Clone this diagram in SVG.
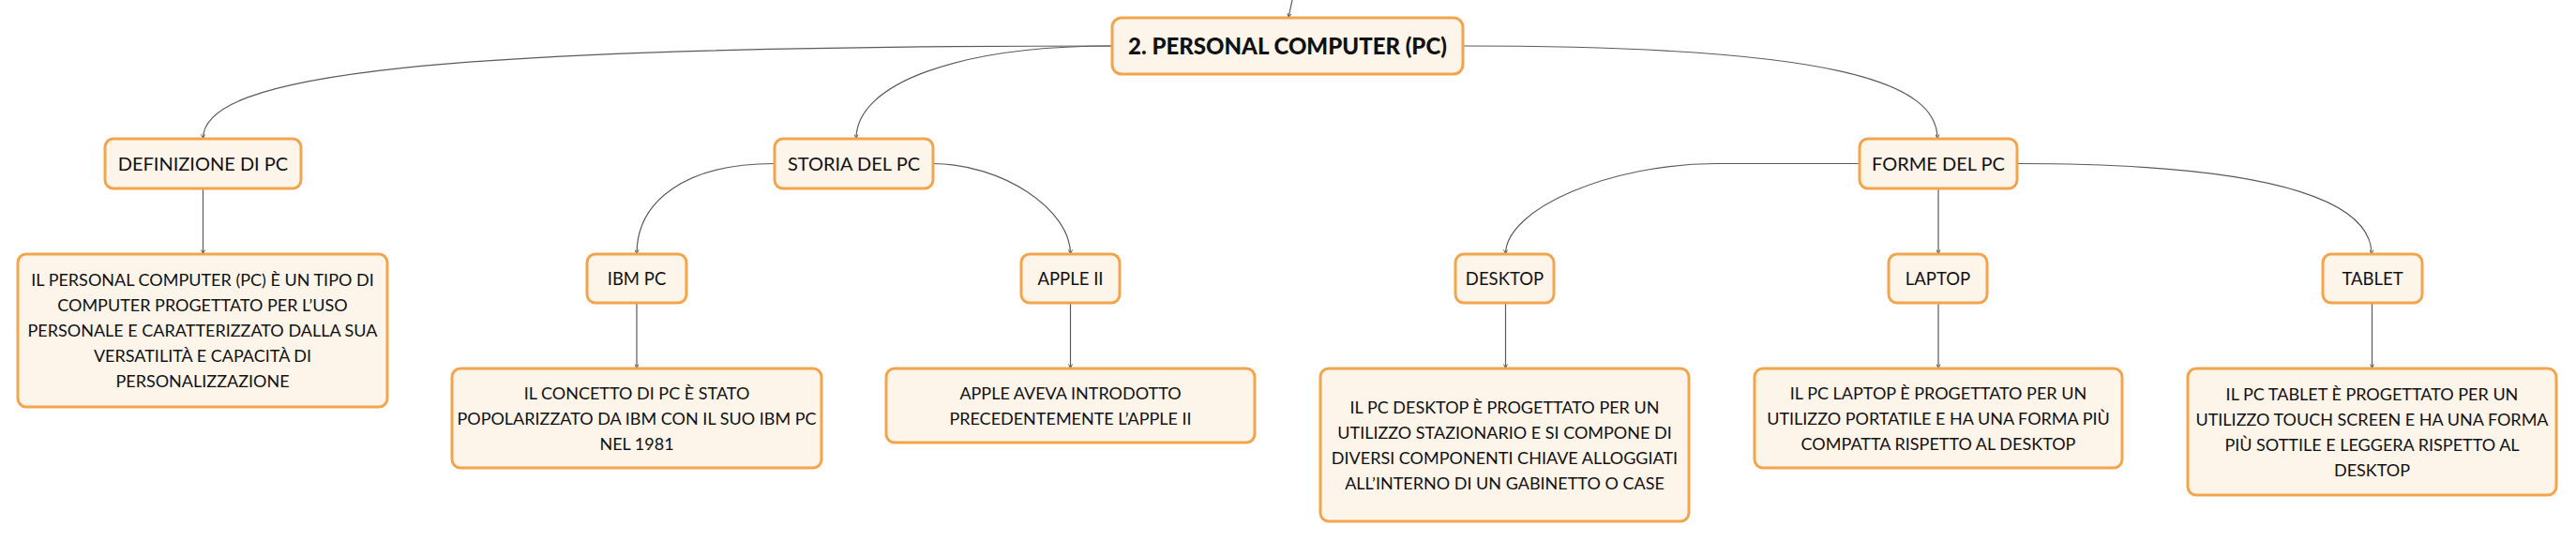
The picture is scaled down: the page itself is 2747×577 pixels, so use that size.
<svg xmlns="http://www.w3.org/2000/svg" width="2747" height="577" viewBox="0 0 2747 577">
<defs>
<marker id="arr" viewBox="0 0 6 6" refX="5.5" refY="3" markerWidth="5" markerHeight="5" markerUnits="userSpaceOnUse" orient="auto">
<path d="M0,0.6 L5.5,3 L0,5.4" fill="none" stroke="#555" stroke-width="1.1"/>
</marker>
</defs>
<style>
.box{fill:#FDF4EA;stroke:#F2A54C;stroke-width:3}
.t{font-family:Lato,"Liberation Sans",sans-serif;fill:#111;text-anchor:middle}
.body{font-size:18px}
.n2{font-size:20px}
.n3{font-size:18.5px}
.title{font-size:24px;font-weight:900}
.c{fill:none;stroke:#5a5a5a;stroke-width:1.2;marker-end:url(#arr)}
</style>
<rect width="2747" height="577" fill="#fff"/>
<g id="connectors">
<path class="c" d="M1378,0 L1374,19"/>
<path class="c" d="M1186,49 C458,49 216,79 216.5,148"/>
<path class="c" d="M1186,49 C1022,49 913,89 913,148"/>
<path class="c" d="M1560,49 C1964,49 2066,89 2066,148"/>
<path class="c" d="M216.5,201 L216.5,271"/>
<path class="c" d="M826,174.5 C730,174.5 679,215 679,271"/>
<path class="c" d="M995,174.5 C1068,174.5 1141.5,223 1141.5,271"/>
<path class="c" d="M679,323 L679,393"/>
<path class="c" d="M1141.5,323 L1141.5,393"/>
<path class="c" d="M1983,174.5 L1830,174.5 C1718,174.5 1605.5,222.5 1605.5,271"/>
<path class="c" d="M2067,201 L2067,271"/>
<path class="c" d="M2151,174.5 C2453,174.5 2529,222.5 2529,271"/>
<path class="c" d="M1605.5,323 L1605.5,393"/>
<path class="c" d="M2067,323 L2067,393"/>
<path class="c" d="M2529.5,323 L2529.5,393"/>
</g>
<g id="n-root">
<rect class="box" x="1186" y="19" width="374" height="60" rx="10"/>
<text class="t title" x="1373" y="57.5">2. PERSONAL COMPUTER (PC)</text>
</g>
<g id="n-def">
<rect class="box" x="112" y="148" width="209" height="53" rx="9"/>
<text class="t n2" x="216.5" y="181.5">DEFINIZIONE DI PC</text>
</g>
<g id="n-def-text">
<rect class="box" x="19" y="271" width="394" height="163" rx="9"/>
<text class="t body" x="216" y="305">IL PERSONAL COMPUTER (PC) È UN TIPO DI</text>
<text class="t body" x="216" y="332">COMPUTER PROGETTATO PER L’USO</text>
<text class="t body" x="216" y="359">PERSONALE E CARATTERIZZATO DALLA SUA</text>
<text class="t body" x="216" y="386">VERSATILITÀ E CAPACITÀ DI</text>
<text class="t body" x="216" y="413">PERSONALIZZAZIONE</text>
</g>
<g id="n-storia">
<rect class="box" x="826" y="148" width="169" height="53" rx="9"/>
<text class="t n2" x="910.5" y="181.5">STORIA DEL PC</text>
</g>
<g id="n-ibm">
<rect class="box" x="626" y="271" width="106" height="52" rx="9"/>
<text class="t n3" x="679" y="303.5">IBM PC</text>
</g>
<g id="n-ibm-text">
<rect class="box" x="482" y="393" width="394" height="106" rx="9"/>
<text class="t body" x="679" y="425.5">IL CONCETTO DI PC È STATO</text>
<text class="t body" x="679" y="452.5">POPOLARIZZATO DA IBM CON IL SUO IBM PC</text>
<text class="t body" x="679" y="479.5">NEL 1981</text>
</g>
<g id="n-apple">
<rect class="box" x="1089" y="271" width="105" height="52" rx="9"/>
<text class="t n3" x="1141.5" y="303.5">APPLE II</text>
</g>
<g id="n-apple-text">
<rect class="box" x="945" y="393" width="393" height="79" rx="9"/>
<text class="t body" x="1141.5" y="425.5">APPLE AVEVA INTRODOTTO</text>
<text class="t body" x="1141.5" y="452.5">PRECEDENTEMENTE L’APPLE II</text>
</g>
<g id="n-forme">
<rect class="box" x="1983" y="148" width="168" height="53" rx="9"/>
<text class="t n2" x="2067" y="181.5">FORME DEL PC</text>
</g>
<g id="n-desktop">
<rect class="box" x="1552" y="271" width="105" height="52" rx="9"/>
<text class="t n3" x="1604.5" y="303.5">DESKTOP</text>
</g>
<g id="n-desktop-text">
<rect class="box" x="1408" y="393" width="393" height="163" rx="9"/>
<text class="t body" x="1604.5" y="440.5">IL PC DESKTOP È PROGETTATO PER UN</text>
<text class="t body" x="1604.5" y="467.5">UTILIZZO STAZIONARIO E SI COMPONE DI</text>
<text class="t body" x="1604.5" y="494.5">DIVERSI COMPONENTI CHIAVE ALLOGGIATI</text>
<text class="t body" x="1604.5" y="521.5">ALL’INTERNO DI UN GABINETTO O CASE</text>
</g>
<g id="n-laptop">
<rect class="box" x="2014" y="271" width="105" height="52" rx="9"/>
<text class="t n3" x="2066.5" y="303.5">LAPTOP</text>
</g>
<g id="n-laptop-text">
<rect class="box" x="1871" y="393" width="392" height="106" rx="9"/>
<text class="t body" x="2067" y="425.5">IL PC LAPTOP È PROGETTATO PER UN</text>
<text class="t body" x="2067" y="452.5">UTILIZZO PORTATILE E HA UNA FORMA PIÙ</text>
<text class="t body" x="2067" y="479.5">COMPATTA RISPETTO AL DESKTOP</text>
</g>
<g id="n-tablet">
<rect class="box" x="2477" y="271" width="106" height="52" rx="9"/>
<text class="t n3" x="2530" y="303.5">TABLET</text>
</g>
<g id="n-tablet-text">
<rect class="box" x="2333" y="393" width="393" height="135" rx="9"/>
<text class="t body" x="2529.5" y="426.5">IL PC TABLET È PROGETTATO PER UN</text>
<text class="t body" x="2529.5" y="453.5">UTILIZZO TOUCH SCREEN E HA UNA FORMA</text>
<text class="t body" x="2529.5" y="480.5">PIÙ SOTTILE E LEGGERA RISPETTO AL</text>
<text class="t body" x="2529.5" y="507.5">DESKTOP</text>
</g>
</svg>
